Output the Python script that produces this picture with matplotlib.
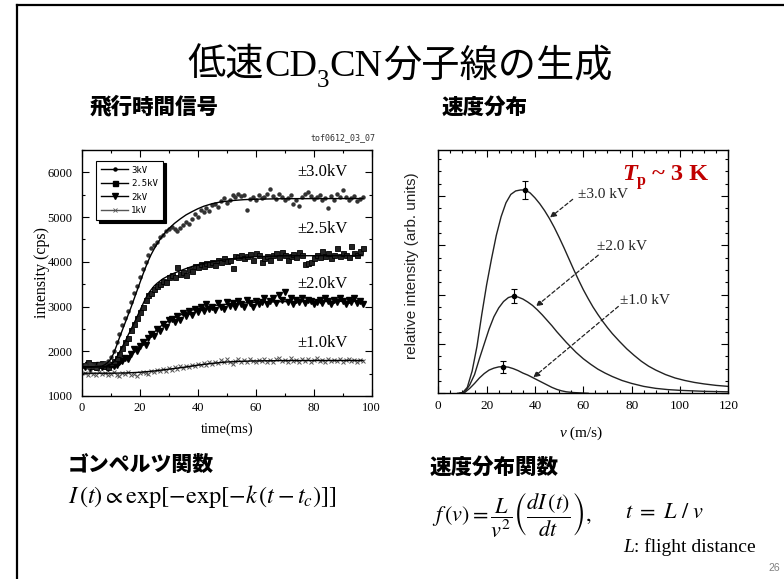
import numpy as np
import matplotlib
matplotlib.use("Agg")
import matplotlib.pyplot as plt
from matplotlib.lines import Line2D
from matplotlib.transforms import IdentityTransform
from matplotlib.ticker import MultipleLocator

plt.rcParams['mathtext.fontset'] = 'stix'
plt.rcParams['font.family'] = ['Liberation Serif', 'Noto Sans CJK JP']

# ---------------- data: time-of-flight signals (left) ----------------
tof_3kV = [1700, 1640, 1720, 1680, 1650, 1710, 1690, 1740, 1780, 1880, 2000, 2200, 2380, 2580, 2750,
           2900, 3100, 3300, 3450, 3650, 3850, 4000, 4150, 4300, 4380, 4450, 4560, 4600, 4680, 4730,
           4780, 4740, 4700, 4760, 4820, 4900, 4850, 4950, 5060, 5000, 5150, 5120, 5200, 5140, 5260,
           5300, 5230, 5350, 5420, 5310, 5380, 5500, 5440, 5520, 5480, 5500, 5150, 5400, 5460, 5380,
           5500, 5420, 5460, 5520, 5620, 5480, 5400, 5520, 5450, 5380, 5420, 5500, 5300, 5380, 5240,
           5450, 5520, 5560, 5480, 5400, 5440, 5500, 5380, 5420, 5200, 5470, 5380, 5520, 5450, 5600,
           5450, 5380, 5420, 5480, 5350, 5400, 5460]
tof_25kV = [1700, 1750, 1680, 1720, 1650, 1700, 1740, 1680, 1650, 1720, 1780, 1850, 1950, 2080, 2200,
            2300, 2480, 2600, 2750, 2880, 3000, 3150, 3250, 3300, 3400, 3450, 3500, 3580, 3550, 3650,
            3700, 3650, 3880, 3720, 3780, 3700, 3850, 3800, 3900, 3880, 3950, 3900, 3980, 3950, 4000,
            3940, 4050, 4000, 4080, 4020, 4050, 3860, 4120, 4100, 4150, 4080, 4120, 4180, 4050, 4200,
            4150, 4000, 4080, 4120, 4050, 4150, 4200, 4100, 4220, 4150, 4050, 4120, 4180, 4100, 4220,
            4150, 3950, 3980, 4000, 4080, 4150, 4100, 4250, 4120, 4200, 4080, 4150, 4300, 4120, 4200,
            4150, 4100, 4350, 4200, 4150, 4250, 4320]
tof_2kV = [1650, 1700, 1620, 1680, 1650, 1700, 1640, 1680, 1620, 1700, 1660, 1700, 1750, 1780, 1850,
           1820, 1950, 2050, 2000, 2120, 2200, 2150, 2300, 2380, 2350, 2500, 2450, 2620, 2550, 2700,
           2720, 2650, 2780, 2700, 2850, 2780, 2900, 2820, 2950, 2880, 2980, 2900, 3050, 2950, 3000,
           2920, 3080, 3000, 2950, 3100, 3020, 3080, 2980, 3120, 3050, 3000, 3150, 3080, 3000, 3120,
           3050, 3100, 3180, 3050, 3120, 3200, 3080, 3250, 3150, 3320, 3100, 3180, 3050, 3150, 3100,
           3200, 3080, 3150, 3120, 3050, 3100, 3150, 3080, 3180, 3120, 3050, 3150, 3100, 3180, 3120,
           3050, 3150, 3100, 3200, 3080, 3120, 3060]
tof_1kV = [1520, 1480, 1540, 1500, 1470, 1530, 1490, 1510, 1460, 1500, 1540, 1480, 1450, 1520, 1490,
           1530, 1470, 1500, 1450, 1510, 1540, 1520, 1500, 1560, 1530, 1580, 1550, 1600, 1570, 1620,
           1590, 1640, 1600, 1660, 1620, 1680, 1650, 1700, 1660, 1720, 1690, 1740, 1700, 1750, 1720,
           1770, 1730, 1800, 1750, 1820, 1760, 1710, 1790, 1830, 1770, 1800, 1760, 1820, 1780, 1750,
           1810, 1790, 1830, 1770, 1800, 1760, 1820, 1850, 1780, 1810, 1770, 1840, 1790, 1800, 1760,
           1830, 1790, 1820, 1770, 1810, 1840, 1790, 1800, 1760, 1820, 1790, 1810, 1780, 1830, 1770,
           1800, 1820, 1790, 1810, 1760, 1800, 1790]

# Gompertz fit lines
fit3_t = [0, 4, 7, 8, 9, 10, 11, 12, 13, 14, 15, 16, 17, 18, 19, 20, 21, 22, 23, 24, 25, 26, 27, 28, 29,
          30, 32, 34, 36, 38, 40, 42, 45, 48, 52, 56, 60, 70, 97]
fit3_v = [1650, 1655, 1670, 1700, 1750, 1820, 1950, 2120, 2300, 2470, 2640, 2810, 2980, 3160, 3340,
          3520, 3700, 3870, 4030, 4170, 4290, 4400, 4500, 4590, 4670, 4740, 4860, 4960, 5050, 5120,
          5185, 5240, 5300, 5340, 5370, 5390, 5400, 5412, 5415]
fit25_t = [0, 8, 10, 11, 12, 13, 14, 15, 16, 17, 18, 19, 20, 21, 22, 23, 24, 25, 26, 27, 28, 30, 32,
           34, 36, 38, 40, 44, 48, 52, 56, 60, 70, 97]
fit25_v = [1650, 1655, 1700, 1760, 1860, 1980, 2100, 2220, 2360, 2490, 2620, 2760, 2900, 3040, 3180,
           3290, 3380, 3460, 3520, 3570, 3620, 3690, 3750, 3800, 3850, 3895, 3935, 3990, 4035, 4070,
           4095, 4115, 4135, 4140]
fit2_t = [0, 10, 12, 13, 14, 15, 16, 17, 18, 19, 20, 22, 24, 26, 28, 30, 32, 34, 36, 38, 40, 44, 48,
          52, 56, 60, 70, 97]
fit2_v = [1650, 1652, 1670, 1700, 1750, 1810, 1880, 1940, 2000, 2060, 2110, 2230, 2360, 2490, 2600,
          2680, 2750, 2810, 2860, 2920, 2950, 3010, 3040, 3060, 3080, 3095, 3110, 3118]
fit1_t = [0, 10, 15, 20, 25, 30, 35, 40, 45, 50, 55, 60, 70, 97]
fit1_v = [1510, 1510, 1515, 1530, 1560, 1600, 1640, 1690, 1730, 1760, 1775, 1785, 1792, 1795]

legend_labels = ['3kV', '2.5kV', '2kV', '1kV']
left_labels = ['\u00b13.0kV', '\u00b12.5kV', '\u00b12.0kV', '\u00b11.0kV']
left_label_y = [6000, 4730, 3510, 2180]

# ---------------- data: velocity distributions (right) ----------------
v30 = [8, 10, 12, 14, 16, 18, 20, 22, 24, 26, 28, 30, 32, 34, 36, 38, 40, 42, 44, 46, 48, 50, 52, 54,
       56, 58, 60, 62, 64, 66, 68, 70, 72, 75, 78, 81, 84, 87, 90, 94, 98, 102, 106, 110, 115, 120]
f30 = [0, 0.01, 0.12, 0.45, 0.95, 1.6, 2.2, 2.72, 3.2, 3.58, 3.86, 4.03, 4.1, 4.12, 4.12, 4.06, 3.96,
       3.84, 3.70, 3.54, 3.36, 3.16, 2.95, 2.73, 2.51, 2.30, 2.10, 1.92, 1.75, 1.60, 1.46, 1.33, 1.21,
       1.05, 0.90, 0.77, 0.65, 0.55, 0.47, 0.38, 0.31, 0.26, 0.22, 0.19, 0.16, 0.14]
v20 = [9, 11, 13, 15, 17, 19, 21, 23, 25, 27, 29, 31, 33, 35, 37, 39, 41, 43, 45, 47, 49, 51, 53, 55,
       57, 60, 63, 66, 69, 72, 76, 80, 85, 90, 95, 100, 110, 120]
f20 = [0, 0.03, 0.17, 0.38, 0.7, 1.0, 1.3, 1.55, 1.73, 1.86, 1.94, 1.97, 1.95, 1.91, 1.85, 1.78, 1.69,
       1.59, 1.48, 1.37, 1.25, 1.14, 1.03, 0.93, 0.83, 0.70, 0.59, 0.49, 0.41, 0.34, 0.26, 0.20, 0.14,
       0.10, 0.075, 0.06, 0.04, 0.03]
v10 = [9, 11, 13, 15, 17, 19, 21, 23, 25, 27, 29, 31, 33, 35, 37, 39, 41, 43, 45, 47, 49, 51, 53, 56,
       60, 62]
f10 = [0, 0.02, 0.1, 0.2, 0.31, 0.4, 0.47, 0.51, 0.535, 0.54, 0.53, 0.5, 0.46, 0.41, 0.37, 0.32, 0.27,
       0.22, 0.17, 0.12, 0.08, 0.05, 0.03, 0.015, 0.005, 0]
peak_v = [35.9, 31.2, 26.9]
peak_f = [4.12, 1.97, 0.54]
peak_err = [0.18, 0.14, 0.12]
right_labels = ['\u00b13.0 kV', '\u00b12.0 kV', '\u00b11.0 kV']
label_pos = [(57.9, 4.03), (65.8, 2.97), (75.2, 1.88)]
arrow_from = [(55.6, 3.93), (66.2, 2.80), (74.5, 1.76)]
arrow_to = [(46.2, 3.56), (40.4, 1.76), (39.3, 0.32)]

# ---------------- figure ----------------
W, H = 784, 579
fig = plt.figure(figsize=(W / 100, H / 100), dpi=100)
fig.patch.set_facecolor('white')

def fx(x):
    return x / W

def fy(y):
    return 1 - y / H

# slide frame (top and left)
fig.add_artist(Line2D([fx(17), 1.0], [fy(4.5), fy(4.5)], color='black', lw=1.6, transform=fig.transFigure))
fig.add_artist(Line2D([fx(17), fx(17)], [fy(4.5), 0.0], color='black', lw=1.6, transform=fig.transFigure))

renderer = fig.canvas.get_renderer()

def run(pieces, x, y, ha='left'):
    """Pieces: (text, kwargs, dy_px down). y = baseline in image px."""
    items = []
    total = 0
    for s, kw, dy in pieces:
        t = fig.text(0, 0, s, transform=IdentityTransform(), ha='left', va='baseline', **kw)
        w = t.get_window_extent(renderer=renderer).width
        items.append((t, dy, w))
        total += w
    cur = x - total / 2 if ha == 'center' else x
    for t, dy, w in items:
        t.set_position((cur, H - y - dy))
        cur += w

serif = 'Liberation Serif'
cjk = 'Noto Sans CJK JP'
# title
run([('低速', dict(family=cjk, fontsize=27.5), 0),
     ('CD', dict(family=serif, fontsize=27.5), 0),
     ('3', dict(family=serif, fontsize=18), 11),
     ('CN', dict(family=serif, fontsize=27.5), 0),
     ('分子線の生成', dict(family=cjk, fontsize=27.5), 0)], 400, 76, ha='center')

# section headings
fig.text(fx(90), fy(107), '飛行時間信号', family=cjk, fontweight='black', fontsize=15.5, va='center', ha='left')
fig.text(fx(442), fy(107), '速度分布', family=cjk, fontweight='black', fontsize=15.5, va='center', ha='left')
fig.text(fx(68), fy(465), 'ゴンペルツ関数', family=cjk, fontweight='black', fontsize=15, va='center', ha='left')
fig.text(fx(430), fy(467), '速度分布関数', family=cjk, fontweight='black', fontsize=15.5, va='center', ha='left')
fig.text(fx(375), fy(138), 'tof0612_03_07', family='DejaVu Sans Mono', fontsize=6, va='center', ha='right', color='#333333')

# ---------------- left plot ----------------
ax1 = fig.add_axes([fx(81.7), fy(396), 290 / W, 246 / H])
t3 = np.arange(1, len(tof_3kV) + 1)
t25 = np.arange(1, len(tof_25kV) + 1)
t2 = np.arange(1, len(tof_2kV) + 1)
t1 = np.arange(1, len(tof_1kV) + 1)
ax1.plot(t1, tof_1kV, ls='none', marker='x', ms=3.2, mew=0.7, color='#555555')
ax1.plot(t2, tof_2kV, ls='none', marker='v', ms=5, color='black')
ax1.plot(t25, tof_25kV, ls='none', marker='s', ms=3.6, mfc='#222222', mec='black', mew=0.6)
ax1.plot(t3, tof_3kV, ls='none', marker='o', ms=2.2, color='#333333')
for ft, fv in [(fit3_t, fit3_v), (fit25_t, fit25_v), (fit2_t, fit2_v), (fit1_t, fit1_v)]:
    ax1.plot(ft, fv, color='black', lw=1.0)
ax1.set_xlim(0, 100)
ax1.set_ylim(1000, 6500)
ax1.xaxis.set_major_locator(MultipleLocator(20))
ax1.xaxis.set_minor_locator(MultipleLocator(10))
ax1.yaxis.set_major_locator(MultipleLocator(1000))
ax1.yaxis.set_minor_locator(MultipleLocator(500))
ax1.tick_params(which='both', direction='in', top=True, right=True, width=0.8)
ax1.tick_params(which='major', length=5)
ax1.tick_params(which='minor', length=2.5)
ax1.tick_params(axis='y', pad=6.5)
ax1.tick_params(axis='x', pad=4.5)
for lab in ax1.get_xticklabels() + ax1.get_yticklabels():
    lab.set_family(serif)
    lab.set_fontsize(9)
for s in ax1.spines.values():
    s.set_linewidth(1.0)
for lab, ly in zip(left_labels, left_label_y):
    ax1.text(83, ly, lab, family=serif, fontsize=12, ha='center', va='center')

handles = [Line2D([], [], color='black', lw=1.0, marker='o', ms=2.2),
           Line2D([], [], color='black', lw=1.0, marker='s', ms=3.6),
           Line2D([], [], color='black', lw=1.0, marker='v', ms=5),
           Line2D([], [], color='#555555', lw=1.0, marker='x', ms=3, mew=0.6)]
leg = ax1.legend(handles, legend_labels, loc='upper left', bbox_to_anchor=(0.035, 0.975),
                 prop={'family': 'DejaVu Sans Mono', 'size': 6.5}, frameon=True, fancybox=False,
                 shadow={'color': 'black', 'alpha': 1.0}, handlelength=3.0, labelspacing=0.5,
                 borderpad=0.55, handletextpad=0.3, numpoints=1)
leg.get_frame().set_edgecolor('black')
leg.get_frame().set_linewidth(0.8)

fig.text(fx(227), fy(429), 'time(ms)', family=serif, fontsize=10.5, ha='center', va='center')
fig.text(fx(42), fy(272), 'intensity (cps)', family=serif, fontsize=11.5, ha='center', va='center', rotation=90)

# ---------------- right plot ----------------
ax2 = fig.add_axes([fx(438.3), fy(393.3), 290 / W, 243.3 / H])
for vv, ff in [(v30, f30), (v20, f20), (v10, f10)]:
    ax2.plot(vv, ff, color='#222222', lw=1.0)
ax2.errorbar(peak_v, peak_f, yerr=peak_err, fmt='o', ms=3, color='black', capsize=2.5, elinewidth=0.8, capthick=0.8)
for lab, (lx, ly), (ax_, ay), (bx, by) in zip(right_labels, label_pos, arrow_from, arrow_to):
    ax2.text(lx, ly, lab, family=serif, fontsize=11, ha='left', va='center', color='#222222')
    ax2.annotate('', xy=(bx, by), xytext=(ax_, ay),
                 arrowprops=dict(arrowstyle='-|>', linestyle=(0, (3, 2)), color='#222222', lw=0.9,
                                 mutation_scale=9, shrinkA=0, shrinkB=0))
ax2.set_xlim(0, 120)
ax2.set_ylim(0, 4.93)
ax2.xaxis.set_major_locator(MultipleLocator(20))
ax2.xaxis.set_minor_locator(MultipleLocator(5))
ax2.yaxis.set_major_locator(MultipleLocator(1))
ax2.yaxis.set_minor_locator(MultipleLocator(0.25))
ax2.tick_params(which='both', direction='in', top=True, right=True, width=0.8)
ax2.tick_params(which='major', length=5)
ax2.tick_params(which='minor', length=2.5)
ax2.tick_params(axis='y', labelleft=False)
ax2.tick_params(axis='x', pad=5)
for lab in ax2.get_xticklabels():
    lab.set_family(serif)
    lab.set_fontsize(9.5)
for s in ax2.spines.values():
    s.set_linewidth(1.0)

fig.text(fx(411.7), fy(266), 'relative intensity (arb. units)', family='Liberation Sans', fontsize=11,
         ha='center', va='center', rotation=90, color='#222222')
run([('v', dict(family=serif, fontsize=11, fontstyle='italic'), 0),
     (' (m/s)', dict(family=serif, fontsize=11), 0)], 581, 437, ha='center')

red = '#C00000'
run([('T', dict(family=serif, fontsize=17.5, fontstyle='italic', fontweight='bold', color=red), 0),
     ('p', dict(family=serif, fontsize=11.5, fontweight='bold', color=red), 5),
     (' ~ 3 K', dict(family=serif, fontsize=17.5, fontweight='bold', color=red), 0)], 622, 180)

# ---------------- formulas ----------------
fig.text(fx(68), fy(497), r'$I\,(t) \propto \exp[-\exp[-k\,(t-t_c)]]$', fontsize=17.5, ha='left', va='center')
fig.text(fx(432), fy(515), r'$f\,(v) = \dfrac{L}{v^2}\left(\dfrac{dI\,(t)}{dt}\right),$', fontsize=16,
         ha='left', va='center')
fig.text(fx(625), fy(513), r'$t\ =\ L\ /\ v$', fontsize=16, ha='left', va='center')
run([('L', dict(family=serif, fontsize=14, fontstyle='italic'), 0),
     (': flight distance', dict(family=serif, fontsize=14), 0)], 623, 552)
fig.text(fx(774), fy(568), '26', family='Liberation Sans', fontsize=7.5, color='#808080', ha='center', va='center')

fig.savefig('out.png', dpi=100, facecolor='white')
